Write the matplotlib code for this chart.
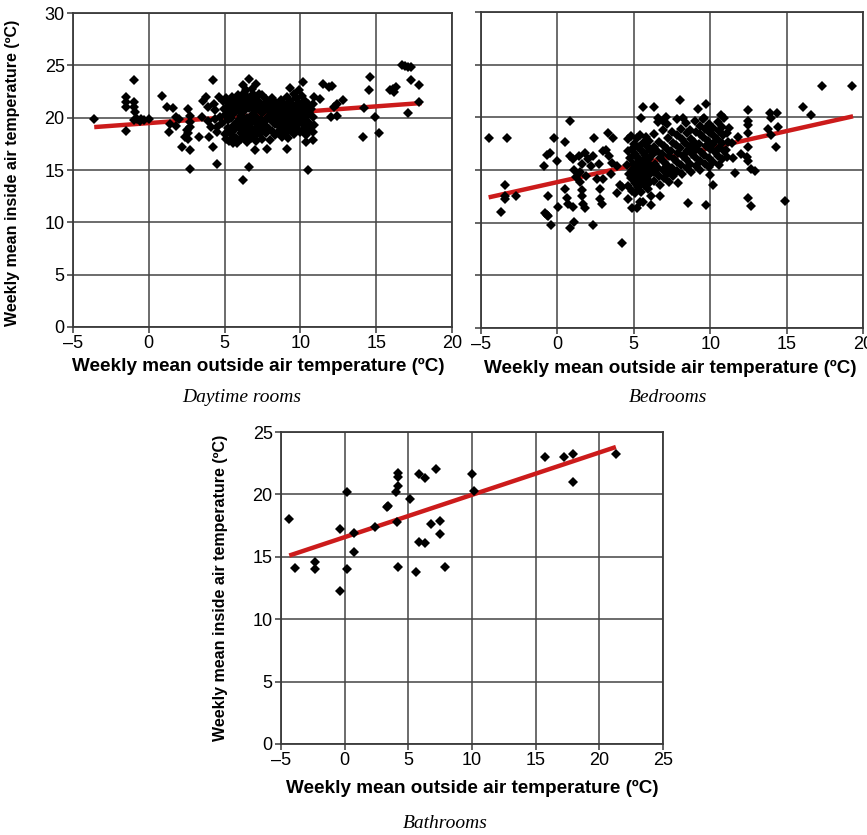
import numpy as np
import matplotlib
matplotlib.use("Agg")
import matplotlib.pyplot as plt

plt.rcParams['font.family'] = ['Liberation Sans', 'DejaVu Sans']

# (outside temp, inside temp)
daytime = np.array([
    (-3.6, 19.9), (-1.5, 22.0), (-1.5, 21.5), (-1.5, 21.0), (-1.5, 18.7), (-1.0, 23.6),
    (-1.0, 21.5), (-1.0, 21.0), (-0.9, 20.5), (-1.0, 19.8), (-0.8, 19.9), (-0.5, 19.9),
    (-0.3, 19.8), (0.0, 19.9), (-0.6, 19.7),
    (0.9, 22.1), (1.2, 21.0), (1.3, 18.6), (1.4, 19.4), (1.6, 20.9), (1.8, 20.1), (2.0, 19.9),
    (1.8, 19.2), (2.2, 17.2), (2.4, 18.2), (2.5, 18.8), (2.6, 20.8), (2.7, 20.2), (2.7, 19.6),
    (2.7, 19.1), (2.6, 18.5), (2.6, 18.0), (2.7, 16.9), (2.75, 15.1), (3.3, 18.2), (3.5, 20.1),
    (3.6, 21.6), (3.8, 22.0), (3.9, 21.0), (3.9, 19.7), (4.0, 18.2), (4.1, 19.1), (4.25, 23.6),
    (4.25, 17.2), (4.5, 15.6), (4.3, 21.3), (4.4, 20.7), (4.4, 19.9), (4.5, 19.1), (4.5, 18.6),
    (4.6, 22.0), (4.7, 20.1),
    (6.2, 14.0), (6.6, 15.3), (6.6, 23.7), (6.2, 23.1), (6.4, 22.6), (6.8, 22.7), (7.1, 23.2),
    (7.3, 22.3), (7.8, 17.0), (7.0, 16.9), (9.1, 17.0), (9.3, 22.8), (9.6, 22.3), (10.2, 23.4),
    (9.9, 22.6), (10.5, 15.0), (10.4, 17.7), (10.8, 17.9), (10.8, 18.6), (10.9, 19.3),
    (10.8, 20.1), (10.8, 21.3), (10.9, 22.0), (11.3, 21.8),
    (11.5, 23.2), (11.9, 22.9), (12.1, 23.0), (12.0, 20.1), (12.4, 20.2), (12.4, 21.3),
    (12.8, 21.7), (12.2, 21.0),
    (14.1, 18.2), (14.2, 20.9), (14.5, 22.6), (14.6, 23.9), (14.9, 20.1), (15.2, 18.5),
    (15.9, 22.6), (16.1, 22.7), (16.3, 22.9), (16.2, 22.5), (16.7, 25.0), (16.9, 24.9),
    (17.1, 24.8), (17.3, 24.8), (17.3, 23.6), (17.1, 20.4), (17.85, 23.1), (17.85, 21.5),
    (4.9, 21.6), (4.95, 20.8), (4.85, 19.5), (5.0, 18.4),
    (5.1, 21.9), (5.15, 21.0), (5.05, 20.3), (5.2, 19.0), (5.1, 18.0),
    (5.3, 21.4), (5.35, 20.6), (5.25, 19.8), (5.4, 18.7), (5.3, 17.8),
    (5.5, 22.0), (5.55, 21.2), (5.45, 20.0), (5.6, 19.3), (5.5, 18.3), (5.55, 17.6),
    (5.7, 21.7), (5.75, 20.9), (5.65, 20.4), (5.8, 19.6), (5.7, 18.9), (5.75, 18.1), (5.85, 17.6),
    (5.9, 22.2), (5.95, 21.4), (5.9, 20.7), (6.0, 19.9), (5.95, 19.1), (6.05, 18.5), (5.9, 17.9),
    (6.1, 21.9), (6.15, 21.1), (6.1, 20.2), (6.2, 19.4), (6.15, 18.8), (6.1, 18.0),
    (6.3, 22.4), (6.35, 21.6), (6.3, 20.6), (6.4, 19.8), (6.3, 19.0), (6.35, 18.3), (6.45, 17.7),
    (6.5, 22.0), (6.55, 21.3), (6.6, 20.9), (6.5, 20.0), (6.6, 19.2), (6.55, 18.6), (6.5, 17.9),
    (6.7, 21.8), (6.75, 21.0), (6.8, 20.3), (6.7, 19.5), (6.8, 18.7), (6.75, 18.1),
    (6.9, 22.3), (6.95, 21.4), (7.0, 20.6), (6.9, 19.7), (7.0, 18.9), (6.95, 18.2),
    (7.1, 21.9), (7.15, 21.1), (7.1, 20.1), (7.2, 19.3), (7.15, 18.5), (7.1, 17.8),
    (7.3, 21.5), (7.35, 20.7), (7.4, 19.8), (7.3, 19.0), (7.35, 18.4),
    (7.5, 22.2), (7.55, 21.2), (7.5, 20.4), (7.6, 19.6), (7.55, 18.8), (7.5, 18.0),
    (7.7, 21.8), (7.75, 20.9), (7.8, 20.0), (7.7, 19.2), (7.75, 18.5),
    (7.9, 21.4), (7.95, 20.6), (8.0, 19.9), (7.9, 18.9), (8.0, 17.9),
    (8.1, 21.9), (8.15, 21.0), (8.1, 20.3), (8.2, 19.6), (8.15, 18.7),
    (8.3, 21.5), (8.35, 20.8), (8.4, 20.1), (8.3, 19.4), (8.35, 18.3),
    (8.5, 21.2), (8.55, 20.5), (8.5, 20.0), (8.6, 19.2), (8.55, 18.6),
    (8.7, 21.7), (8.75, 20.9), (8.8, 20.3), (8.7, 19.8), (8.75, 18.9), (8.8, 18.2),
    (8.9, 21.3), (8.95, 20.6), (9.0, 20.0), (8.9, 19.5), (9.0, 18.4),
    (9.1, 22.0), (9.15, 21.0), (9.1, 20.4), (9.2, 19.9), (9.15, 19.1), (9.2, 18.1),
    (9.3, 21.6), (9.35, 20.8), (9.4, 20.2), (9.3, 19.6), (9.35, 18.7),
    (9.5, 21.2), (9.55, 20.5), (9.5, 20.0), (9.6, 19.3), (9.55, 18.4),
    (9.7, 21.9), (9.75, 21.0), (9.8, 20.3), (9.7, 19.8), (9.75, 18.9),
    (9.9, 21.4), (9.95, 20.6), (10.0, 20.1), (9.9, 19.5), (10.0, 18.6),
    (10.1, 22.1), (10.15, 21.2), (10.1, 20.4), (10.2, 19.7), (10.15, 18.8),
    (10.3, 21.6), (10.35, 20.9), (10.4, 20.2), (10.3, 19.2), (10.35, 18.3),
    (10.5, 21.3), (10.55, 20.5), (10.5, 19.6), (10.6, 18.7),
    (10.7, 20.8), (10.7, 19.1),
])

bedrooms = np.array([
    (-4.5, 18.0), (-3.3, 18.0), (-3.4, 13.6), (-3.4, 12.5), (-3.4, 12.2), (-2.7, 12.5), (-3.7, 11.0),
    (-0.9, 15.4), (-0.7, 16.4), (-0.5, 16.6), (-0.8, 10.9), (-0.7, 10.7), (-0.6, 10.6), (-0.4, 9.8),
    (-0.6, 12.5), (0.0, 15.9), (-0.2, 18.0), (0.05, 11.5),
    (0.5, 17.7), (0.8, 19.7), (0.5, 13.2), (0.6, 12.3), (0.7, 11.8), (1.0, 11.5), (0.8, 16.3),
    (1.0, 16.0), (1.1, 15.0), (1.2, 14.3), (0.8, 9.5), (1.1, 10.1),
    (1.4, 16.3), (1.6, 15.6), (1.5, 13.9), (1.6, 13.1), (1.6, 12.5), (1.7, 11.8), (1.8, 11.4),
    (1.8, 16.6), (2.0, 16.0), (2.3, 16.3), (2.2, 15.4), (1.5, 14.8), (1.9, 14.4),
    (2.3, 9.8), (2.4, 18.0), (2.6, 14.1), (2.8, 13.2), (2.8, 12.2), (2.9, 11.8), (3.0, 14.1), (2.7, 15.6),
    (3.3, 18.5), (3.65, 18.0), (3.2, 16.9), (3.4, 16.3), (3.6, 15.7), (3.9, 15.4), (3.9, 12.8),
    (4.1, 13.6), (4.2, 13.4), (3.0, 16.8), (3.5, 14.6),
    (4.2, 8.1),
    (5.6, 21.0), (6.3, 21.0), (5.5, 19.9), (6.6, 19.9), (6.9, 19.7), (8.0, 21.6), (9.2, 20.8),
    (9.7, 21.3), (7.1, 20.0), (8.2, 19.9), (9.5, 19.8),
    (4.6, 12.2), (4.85, 11.4), (5.2, 11.4), (5.4, 12.0), (5.6, 12.0), (6.1, 11.7), (6.1, 12.5),
    (6.7, 12.5), (8.55, 11.9), (9.75, 11.7), (10.2, 13.6), (10.7, 20.2), (10.9, 19.9), (11.2, 19.0),
    (11.6, 14.7),
    (12.5, 20.7), (12.5, 19.7), (12.5, 19.3), (12.5, 18.5), (12.5, 17.2), (12.4, 16.2), (12.5, 15.9),
    (12.7, 15.1), (12.9, 14.9), (12.5, 12.3), (12.7, 11.6),
    (13.9, 20.4), (14.0, 19.9), (13.8, 18.9), (14.0, 18.3), (14.3, 17.2), (14.4, 20.4), (14.45, 19.1),
    (14.9, 12.1), (16.1, 21.0), (16.6, 20.2), (17.3, 23.0), (19.3, 23.0),
    (11.4, 17.6), (11.8, 18.1), (12.0, 16.5), (11.5, 16.1),
    (4.6, 17.9), (4.65, 16.8), (4.55, 15.5), (4.7, 14.6), (4.6, 13.5),
    (4.8, 18.2), (4.85, 17.0), (4.75, 16.1), (4.9, 15.0), (4.8, 14.2), (4.85, 13.0),
    (5.0, 17.5), (5.05, 16.5), (4.95, 15.6), (5.1, 15.2), (5.0, 14.6), (5.05, 13.8), (5.1, 12.8),
    (5.2, 18.0), (5.25, 17.2), (5.15, 16.3), (5.3, 15.8), (5.2, 15.0), (5.25, 14.3), (5.3, 13.4),
    (5.4, 18.3), (5.45, 16.9), (5.35, 16.0), (5.5, 15.4), (5.4, 14.8), (5.45, 14.0), (5.5, 12.9),
    (5.6, 17.6), (5.65, 16.6), (5.55, 15.9), (5.7, 15.2), (5.6, 14.5), (5.65, 13.6),
    (5.8, 18.1), (5.85, 17.3), (5.75, 16.4), (5.9, 15.7), (5.8, 14.9), (5.85, 14.1), (5.9, 13.2),
    (6.0, 17.8), (6.05, 16.9), (6.0, 16.0), (6.1, 15.3), (6.05, 14.6), (6.0, 13.8),
    (6.3, 18.4), (6.35, 17.2), (6.25, 16.5), (6.4, 15.6), (6.3, 14.8), (6.35, 14.0),
    (6.6, 19.6), (6.65, 17.7), (6.55, 16.8), (6.7, 16.1), (6.6, 15.2), (6.65, 14.4), (6.7, 13.6),
    (6.9, 18.8), (6.95, 17.3), (6.85, 16.5), (7.0, 15.8), (6.9, 15.0), (6.95, 14.2),
    (7.2, 19.4), (7.25, 18.0), (7.15, 17.0), (7.3, 16.3), (7.2, 15.5), (7.25, 14.7), (7.3, 13.9),
    (7.5, 18.6), (7.55, 17.6), (7.45, 16.8), (7.6, 16.0), (7.5, 15.2), (7.55, 14.4),
    (7.8, 19.8), (7.85, 18.3), (7.75, 17.4), (7.9, 16.6), (7.8, 15.8), (7.85, 14.9), (7.9, 13.8),
    (8.1, 18.9), (8.15, 17.9), (8.05, 17.1), (8.2, 16.3), (8.1, 15.5), (8.15, 14.6),
    (8.4, 19.5), (8.45, 18.5), (8.35, 17.6), (8.5, 16.8), (8.4, 16.0), (8.45, 15.2),
    (8.7, 18.8), (8.75, 17.9), (8.65, 17.2), (8.8, 16.5), (8.7, 15.6), (8.75, 14.8),
    (9.0, 19.7), (9.05, 18.6), (8.95, 17.7), (9.1, 17.0), (9.0, 16.2), (9.05, 15.4),
    (9.3, 19.2), (9.35, 18.4), (9.25, 17.5), (9.4, 16.7), (9.3, 15.9), (9.35, 15.0),
    (9.6, 19.9), (9.65, 18.9), (9.55, 18.1), (9.7, 17.3), (9.6, 16.4), (9.65, 15.6),
    (9.9, 19.4), (9.95, 18.6), (9.85, 17.8), (10.0, 17.0), (9.9, 16.1), (9.95, 15.3), (10.0, 14.5),
    (10.2, 19.0), (10.25, 18.2), (10.15, 17.5), (10.3, 16.7), (10.2, 15.8),
    (10.5, 19.6), (10.55, 18.7), (10.45, 17.9), (10.6, 17.1), (10.5, 16.3), (10.55, 15.5),
    (10.8, 19.1), (10.85, 18.3), (10.75, 17.6), (10.9, 16.8), (10.8, 16.0),
    (11.1, 18.5), (11.15, 17.7), (11.05, 16.9), (11.1, 16.2),
])

bath_out = [-4.35, -3.9, -2.3, -2.3, -0.4, -0.4, 0.2, 0.2, 0.7, 0.7, 2.35, 3.3, 3.4, 4.0,
            4.1, 4.2, 4.2, 4.2, 4.2, 5.1, 5.6, 5.8, 5.8, 6.3, 6.3, 6.8, 7.2, 7.5, 7.5, 7.9,
            10.0, 10.15, 15.7, 17.2, 17.9, 17.9, 21.3]
bath_in = [18.0, 14.1, 14.6, 14.0, 17.2, 12.3, 20.2, 14.0, 16.9, 15.4, 17.4, 19.0, 19.1, 20.2,
           17.8, 21.7, 21.4, 20.7, 14.2, 19.6, 13.8, 21.6, 16.2, 21.3, 16.1, 17.6, 22.0, 17.9, 16.8, 14.2,
           21.6, 20.3, 23.0, 23.0, 23.2, 21.0, 23.2]

# fitted trend lines (end points)
day_trend_x, day_trend_y = [-3.6, 18.0], [19.1, 21.4]
bed_trend_x, bed_trend_y = [-4.5, 19.35], [12.4, 20.1]
bath_trend_x, bath_trend_y = [-4.35, 21.3], [15.1, 23.8]

xlabel = 'Weekly mean outside air temperature (\u00baC)'
ylabel = 'Weekly mean inside air temperature (\u00baC)'

fig = plt.figure(figsize=(8.67, 8.35), dpi=100)
ax1 = fig.add_axes([0.0842, 0.6084, 0.4371, 0.376])
ax2 = fig.add_axes([0.5548, 0.6072, 0.4406, 0.3784])
ax3 = fig.add_axes([0.3241, 0.109, 0.4406, 0.3736])


def style(ax, xmax, ymax):
    ax.set_xlim(-5, xmax)
    ax.set_ylim(0, ymax)
    ax.set_xticks(np.arange(-5, xmax + 1, 5))
    ax.set_yticks(np.arange(0, ymax + 1, 5))
    ax.grid(True, color='#444444', lw=1.1)
    ax.set_axisbelow(True)
    for s in ax.spines.values():
        s.set_color('#3a3a3a')
        s.set_linewidth(1.3)
    ax.tick_params(direction='out', length=4, width=1.1, color='#3a3a3a',
                   labelsize=13, pad=2)
    ax.xaxis.set_major_formatter(plt.FuncFormatter(lambda v, p: ('\u2013%d' % -v) if v < 0 else '%d' % v))


def draw(ax, x, y, tx, ty):
    ax.plot(tx, ty, color='#cc1b1b', lw=3.2, zorder=2, solid_capstyle='butt')
    ax.plot(x, y, 'D', color='black', ms=5.0, mew=0, zorder=3)


style(ax1, 20, 30)
draw(ax1, daytime[:, 0], daytime[:, 1], day_trend_x, day_trend_y)
ax1.set_xlabel(xlabel, fontsize=13.6, fontweight='bold')
ax1.set_ylabel(ylabel, fontsize=11.5, fontweight='bold')
ax1.xaxis.set_label_coords(0.49, -0.1)
ax1.yaxis.set_label_coords(-0.14, 0.49)

style(ax2, 20, 30)
draw(ax2, bedrooms[:, 0], bedrooms[:, 1], bed_trend_x, bed_trend_y)
ax2.tick_params(labelleft=False)
ax2.set_xlabel(xlabel, fontsize=13.6, fontweight='bold')
ax2.xaxis.set_label_coords(0.495, -0.1)

style(ax3, 25, 25)
draw(ax3, bath_out, bath_in, bath_trend_x, bath_trend_y)
ax3.set_xlabel(xlabel, fontsize=13.6, fontweight='bold')
ax3.set_ylabel(ylabel, fontsize=11.5, fontweight='bold')
ax3.xaxis.set_label_coords(0.5, -0.115)
ax3.yaxis.set_label_coords(-0.139, 0.5)

cap = dict(family='Liberation Serif', style='italic', fontsize=14, ha='center', va='center')
fig.text(242 / 867, 1 - 397 / 835, 'Daytime rooms', **cap)
fig.text(668 / 867, 1 - 398 / 835, 'Bedrooms', **cap)
fig.text(445 / 867, 1 - 823 / 835, 'Bathrooms', **cap)

fig.savefig('out.png', dpi=100)
